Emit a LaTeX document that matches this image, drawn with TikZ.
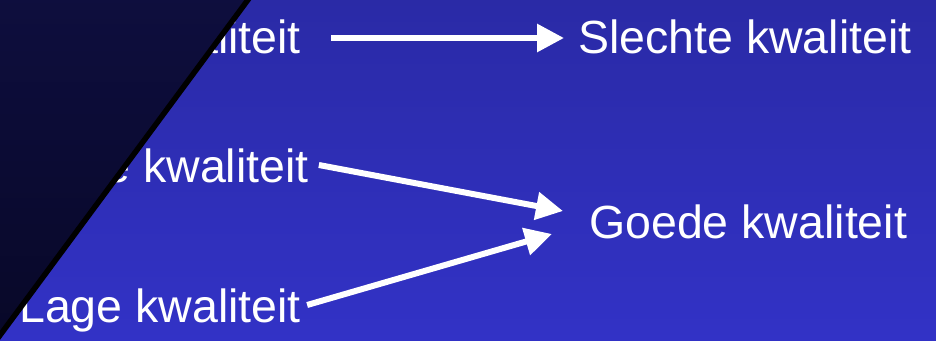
\documentclass[tikz,border=0pt]{standalone}
\usepackage{fontspec}
\setmainfont{Liberation Sans}
\usetikzlibrary{arrows.meta}
\definecolor{bg_top}{RGB}{42,42,166}
\definecolor{bg_bot}{RGB}{50,50,198}
\definecolor{hoek_top}{RGB}{14,14,62}
\definecolor{hoek_bot}{RGB}{8,8,40}

\begin{document}
\begin{tikzpicture}[x = 1pt, y = -1pt,
kwal/.style = { anchor = base west, inner sep = 0pt, text = white, font = \fontsize{46.5}{50}\selectfont,
text height = 33pt, text depth = 10pt},
pijl/.style = { draw = white, line width = 6pt, -{Triangle[length = 27pt, width = 27pt]} }]
\useasboundingbox (0,0) rectangle (936,340);
\clip (0,0) rectangle (936,340);
\fill[top color = bg_top, bottom color = bg_bot] (0,0) rectangle (936,340);
\node[kwal] (l1) at (19,53) {Lage kwaliteit};
\node[kwal] (h) at (19,182) {Hoge kwaliteit};
\node[kwal] (l2) at (19,322) {Lage kwaliteit};
\node[kwal] (s) at (578,53) {Slechte kwaliteit};
\node[kwal] (g) at (589,238) {Goede kwaliteit};
\draw[pijl] ([xshift = 30pt, yshift = 3.5pt]l1.east) -- ([xshift = -14pt, yshift = 3.5pt]s.west);
\draw[pijl] ([xshift = 10pt, yshift = 5.5pt]h.east) -- ([xshift = -26pt, yshift = 15.5pt]g.west);
\draw[pijl] ([xshift = 6pt, yshift = 5.5pt]l2.east) -- ([xshift = -37pt, yshift = -7.5pt]g.west);
\fill[top color = hoek_top, bottom color = hoek_bot] (0,-5) -- (253,-5) -- (-5,342) -- cycle;
\draw[black, line width = 5.5pt] (253,-7) -- (-5,342);
\end{tikzpicture}
\end{document}
